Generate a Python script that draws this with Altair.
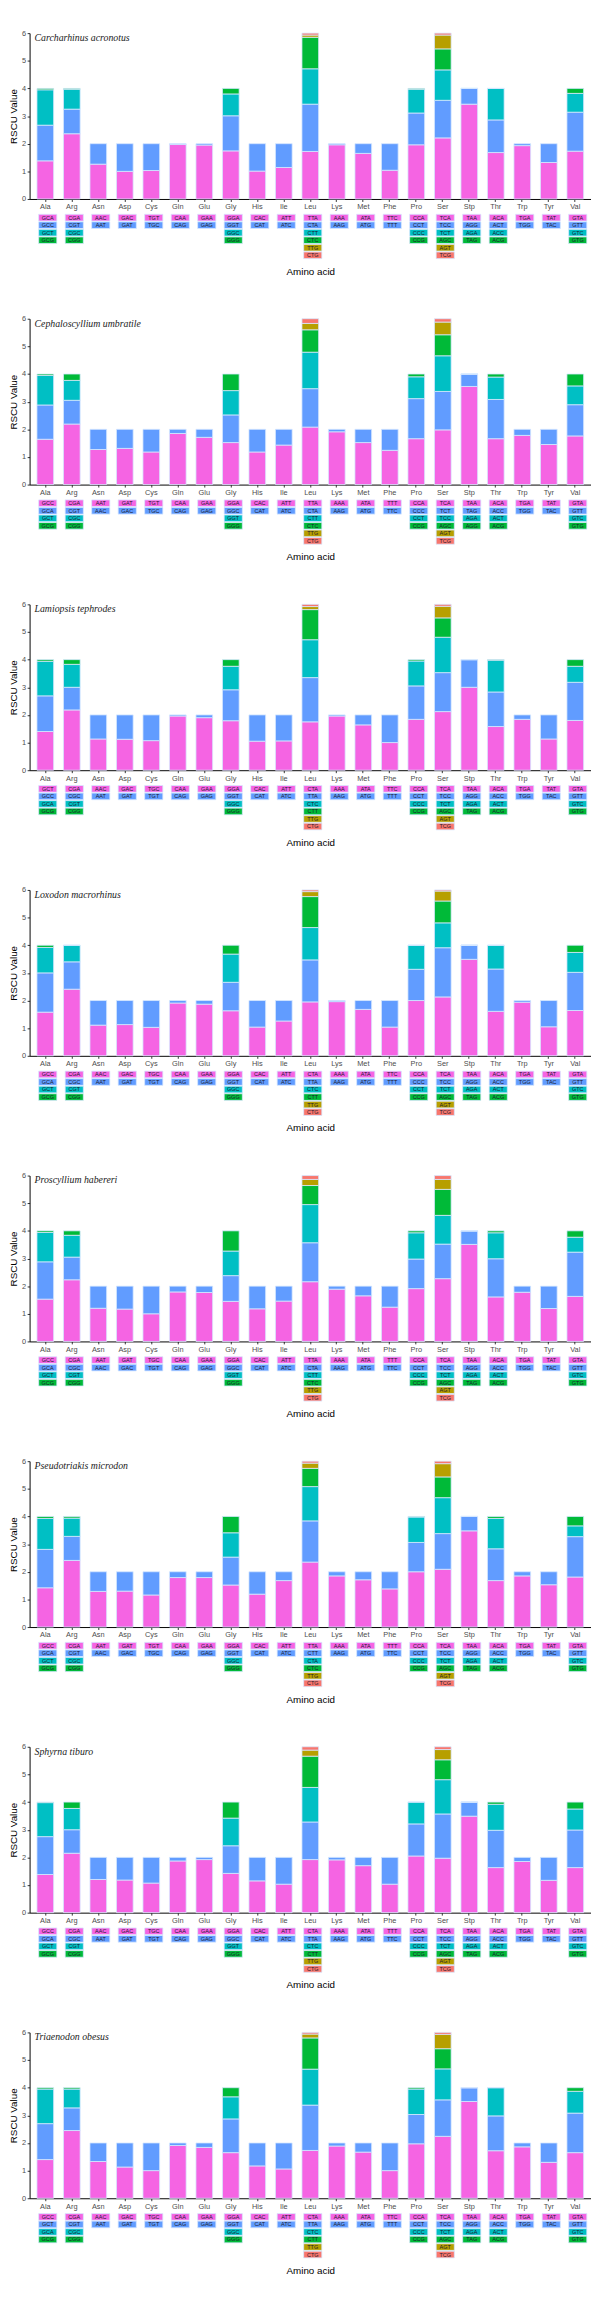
import altair as alt
import pandas as pd

AMINO = ["Ala", "Arg", "Asn", "Asp", "Cys", "Gln", "Glu", "Gly", "His", "Ile", "Leu",
         "Lys", "Met", "Phe", "Pro", "Ser", "Stp", "Thr", "Trp", "Tyr", "Val"]

SPECIES = ["Carcharhinus acronotus", "Cephaloscyllium umbratile", "Lamiopsis tephrodes",
           "Loxodon macrorhinus", "Proscyllium habereri", "Pseudotriakis microdon",
           "Sphyrna tiburo", "Triaenodon obesus"]

ROW_COLORS = ["#F564E3", "#619CFF", "#00BFC4", "#00BA38", "#B79F00", "#F8766D"]

# codon labels per amino acid (bottom of stack first)
COD_1 = ["GCA GCC GCT GCG", "CGA CGT CGC CGG", "AAC AAT", "GAC GAT", "TGT TGC", "CAA CAG", "GAA GAG",
         "GGA GGT GGC GGG", "CAC CAT", "ATT ATC", "TTA CTA CTT CTC TTG CTG", "AAA AAG", "ATA ATG",
         "TTC TTT", "CCA CCT CCC CCG", "TCA TCC TCT AGC AGT TCG", "TAA AGG AGA TAG", "ACA ACT ACC ACG",
         "TGA TGG", "TAT TAC", "GTA GTT GTC GTG"]
COD_2 = ["GCC GCA GCT GCG", "CGA CGT CGC CGG", "AAT AAC", "GAT GAC", "TGT TGC", "CAA CAG", "GAA GAG",
         "GGA GGC GGT GGG", "CAC CAT", "ATT ATC", "TTA CTA CTT CTC TTG CTG", "AAA AAG", "ATA ATG",
         "TTT TTC", "CCA CCC CCT CCG", "TCA TCT TCC AGC AGT TCG", "TAA TAG AGA AGG", "ACA ACC ACT ACG",
         "TGA TGG", "TAT TAC", "GTA GTT GTC GTG"]
COD_3 = ["GCT GCC GCA GCG", "CGA CGC CGT CGG", "AAC AAT", "GAC GAT", "TGC TGT", "CAA CAG", "GAA GAG",
         "GGA GGT GGC GGG", "CAC CAT", "ATT ATC", "CTA TTA CTC CTT TTG CTG", "AAA AAG", "ATA ATG",
         "TTC TTT", "CCA CCT CCC CCG", "TCA TCC TCT AGC AGT TCG", "TAA AGG AGA TAG", "ACA ACC ACT ACG",
         "TGA TGG", "TAT TAC", "GTA GTT GTC GTG"]
COD_4 = ["GCC GCA GCT GCG", "CGA CGC CGT CGG", "AAC AAT", "GAC GAT", "TGC TGT", "CAA CAG", "GAA GAG",
         "GGA GGT GGC GGG", "CAC CAT", "ATT ATC", "CTA TTA CTC CTT TTG CTG", "AAA AAG", "ATA ATG",
         "TTC TTT", "CCA CCC CCT CCG", "TCA TCC TCT AGC AGT TCG", "TAA AGG AGA TAG", "ACA ACC ACT ACG",
         "TGA TGG", "TAT TAC", "GTA GTT GTC GTG"]
COD_5 = ["GCC GCA GCT GCG", "CGA CGC CGT CGG", "AAT AAC", "GAT GAC", "TGC TGT", "CAA CAG", "GAA GAG",
         "GGA GGC GGT GGG", "CAC CAT", "ATT ATC", "TTA CTA CTT CTC TTG CTG", "AAA AAG", "ATA ATG",
         "TTT TTC", "CCA CCT CCC CCG", "TCA TCC TCT AGC AGT TCG", "TAA AGG AGA TAG", "ACA ACC ACT ACG",
         "TGA TGG", "TAT TAC", "GTA GTT GTC GTG"]
COD_6 = ["GCC GCA GCT GCG", "CGA CGT CGC CGG", "AAT AAC", "GAT GAC", "TGT TGC", "CAA CAG", "GAA GAG",
         "GGA GGT GGC GGG", "CAC CAT", "ATT ATC", "TTA CTT CTA CTC TTG CTG", "AAA AAG", "ATA ATG",
         "TTT TTC", "CCA CCT CCC CCG", "TCA TCC TCT AGC AGT TCG", "TAA AGG AGA TAG", "ACA ACC ACT ACG",
         "TGA TGG", "TAT TAC", "GTA GTT GTC GTG"]
COD_7 = ["GCC GCA GCT GCG", "CGA CGC CGT CGG", "AAC AAT", "GAC GAT", "TGC TGT", "CAA CAG", "GAA GAG",
         "GGA GGC GGT GGG", "CAC CAT", "ATT ATC", "CTA TTA CTC CTT TTG CTG", "AAA AAG", "ATA ATG",
         "TTT TTC", "CCA CCT CCC CCG", "TCA TCC TCT AGC AGT TCG", "TAA AGG AGA TAG", "ACA ACC ACT ACG",
         "TGA TGG", "TAT TAC", "GTA GTT GTC GTG"]
COD_8 = ["GCC GCT GCA GCG", "CGA CGT CGC CGG", "AAC AAT", "GAC GAT", "TGC TGT", "CAA CAG", "GAA GAG",
         "GGA GGT GGC GGG", "CAC CAT", "ATT ATC", "CTA TTA CTC CTT TTG CTG", "AAA AAG", "ATA ATG",
         "TTC TTT", "CCA CCT CCC CCG", "TCA TCC TCT AGC AGT TCG", "TAA AGG AGA TAG", "ACA ACC ACT ACG",
         "TGA TGG", "TAT TAC", "GTA GTT GTC GTG"]

# RSCU values per amino acid, in the same order as the codon labels
VAL_1 = [[1.38, 1.29, 1.28, 0.05], [2.36, 0.89, 0.72, 0.03], [1.26, 0.74], [1.0, 1.0], [1.03, 0.97],
         [1.97, 0.03], [1.95, 0.05], [1.74, 1.27, 0.79, 0.2], [1.01, 0.99], [1.14, 0.86],
         [1.72, 1.71, 1.28, 1.14, 0.08, 0.07], [1.96, 0.04], [1.65, 0.35], [1.04, 0.96],
         [1.96, 1.15, 0.86, 0.03], [2.21, 1.36, 1.10, 0.76, 0.50, 0.07], [3.43, 0.57, 0.0, 0.0],
         [1.68, 1.18, 1.14, 0.0], [1.93, 0.07], [1.32, 0.68], [1.73, 1.41, 0.68, 0.18]]
VAL_2 = [[1.64, 1.24, 1.07, 0.05], [2.19, 0.86, 0.72, 0.23], [1.27, 0.73], [1.31, 0.69], [1.18, 0.82],
         [1.85, 0.15], [1.71, 0.29], [1.52, 1.0, 0.88, 0.60], [1.18, 0.82], [1.43, 0.57],
         [2.08, 1.39, 1.32, 0.81, 0.23, 0.17], [1.91, 0.09], [1.52, 0.48], [1.24, 0.76],
         [1.66, 1.45, 0.79, 0.10], [1.98, 1.39, 1.29, 0.76, 0.46, 0.12], [3.55, 0.45, 0.0, 0.0],
         [1.66, 1.42, 0.81, 0.11], [1.78, 0.22], [1.45, 0.55], [1.76, 1.13, 0.68, 0.43]]
VAL_3 = [[1.40, 1.29, 1.25, 0.06], [2.18, 0.82, 0.83, 0.17], [1.13, 0.87], [1.12, 0.88], [1.07, 0.93],
         [1.96, 0.04], [1.90, 0.10], [1.79, 1.12, 0.85, 0.24], [1.05, 0.95], [1.06, 0.94],
         [1.75, 1.60, 1.37, 1.09, 0.11, 0.08], [1.96, 0.04], [1.64, 0.36], [1.0, 1.0],
         [1.84, 1.21, 0.90, 0.05], [2.12, 1.41, 1.28, 0.70, 0.42, 0.07], [3.0, 1.0, 0.0, 0.0],
         [1.58, 1.25, 1.15, 0.02], [1.84, 0.16], [1.13, 0.87], [1.80, 1.38, 0.58, 0.24]]
VAL_4 = [[1.58, 1.42, 0.92, 0.08], [2.41, 0.99, 0.60, 0.0], [1.11, 0.89], [1.13, 0.87], [1.03, 0.97],
         [1.91, 0.09], [1.87, 0.13], [1.63, 1.03, 1.02, 0.32], [1.04, 0.96], [1.26, 0.74],
         [1.95, 1.52, 1.17, 1.12, 0.18, 0.06], [1.96, 0.04], [1.68, 0.32], [1.04, 0.96],
         [2.0, 1.13, 0.87, 0.0], [2.13, 1.78, 0.90, 0.79, 0.36, 0.04], [3.49, 0.51, 0.0, 0.0],
         [1.61, 1.53, 0.86, 0.0], [1.94, 0.06], [1.05, 0.95], [1.64, 1.38, 0.72, 0.26]]
VAL_5 = [[1.53, 1.35, 1.06, 0.06], [2.23, 0.82, 0.79, 0.16], [1.20, 0.80], [1.17, 0.83], [1.0, 1.0],
         [1.79, 0.21], [1.77, 0.23], [1.45, 0.93, 0.89, 0.73], [1.18, 0.82], [1.46, 0.54],
         [2.16, 1.41, 1.38, 0.69, 0.22, 0.14], [1.89, 0.11], [1.65, 0.35], [1.24, 0.76],
         [1.91, 1.07, 0.95, 0.07], [2.27, 1.25, 1.04, 0.94, 0.36, 0.14], [3.51, 0.49, 0.0, 0.0],
         [1.61, 1.38, 0.94, 0.07], [1.78, 0.22], [1.19, 0.81], [1.63, 1.60, 0.54, 0.23]]
VAL_6 = [[1.42, 1.39, 1.12, 0.07], [2.41, 0.87, 0.66, 0.06], [1.29, 0.71], [1.30, 0.70], [1.16, 0.84],
         [1.79, 0.21], [1.79, 0.21], [1.52, 1.01, 0.88, 0.59], [1.19, 0.81], [1.68, 0.32],
         [2.35, 1.49, 1.24, 0.66, 0.19, 0.07], [1.85, 0.15], [1.71, 0.29], [1.38, 0.62],
         [2.0, 1.06, 0.92, 0.02], [2.09, 1.29, 1.30, 0.75, 0.48, 0.09], [3.48, 0.52, 0.0, 0.0],
         [1.68, 1.15, 1.10, 0.07], [1.85, 0.15], [1.53, 0.47], [1.81, 1.46, 0.39, 0.34]]
VAL_7 = [[1.38, 1.37, 1.23, 0.02], [2.15, 0.85, 0.77, 0.23], [1.20, 0.80], [1.18, 0.82], [1.07, 0.93],
         [1.87, 0.13], [1.92, 0.08], [1.42, 1.0, 1.0, 0.58], [1.15, 0.85], [1.03, 0.97],
         [1.92, 1.36, 1.25, 1.13, 0.22, 0.12], [1.91, 0.09], [1.70, 0.30], [1.03, 0.97],
         [2.05, 1.16, 0.79, 0.0], [1.97, 1.60, 1.24, 0.72, 0.37, 0.10], [3.49, 0.51, 0.0, 0.0],
         [1.63, 1.35, 0.94, 0.08], [1.85, 0.15], [1.17, 0.83], [1.63, 1.36, 0.76, 0.25]]
VAL_8 = [[1.40, 1.30, 1.25, 0.05], [2.45, 0.82, 0.68, 0.05], [1.33, 0.67], [1.13, 0.87], [1.0, 1.0],
         [1.91, 0.09], [1.84, 0.16], [1.65, 1.22, 0.80, 0.33], [1.17, 0.83], [1.06, 0.94],
         [1.73, 1.64, 1.30, 1.13, 0.14, 0.06], [1.89, 0.11], [1.67, 0.33], [1.0, 1.0],
         [1.97, 1.06, 0.92, 0.05], [2.24, 1.32, 1.12, 0.73, 0.52, 0.07], [3.50, 0.50, 0.0, 0.0],
         [1.72, 1.26, 1.02, 0.0], [1.86, 0.14], [1.30, 0.70], [1.65, 1.43, 0.79, 0.13]]

CODONS = [COD_1, COD_2, COD_3, COD_4, COD_5, COD_6, COD_7, COD_8]
VALUES = [VAL_1, VAL_2, VAL_3, VAL_4, VAL_5, VAL_6, VAL_7, VAL_8]

PLOT_W, PLOT_H = 572, 169
UNIT = 6.0 / PLOT_H            # data units per pixel
ROW0_PX, ROW_STEP_PX, BOX_HALF_PX = 19.0, 7.67, 3.4

FONT = "Liberation Sans"

color_scale = alt.Scale(domain=[1, 2, 3, 4, 5, 6], range=ROW_COLORS)
xenc = alt.X("aa:N", sort=AMINO,
             scale=alt.Scale(paddingInner=0.37, paddingOuter=0.278),
             axis=alt.Axis(title="Amino acid", labelAngle=0, labelFontSize=7.5, labelColor="#4d4d4d",
                           labelFont=FONT, titleFont=FONT, titleFontSize=10, titleFontWeight="normal",
                           titleColor="#000000", titlePadding=57, tickSize=2.5, tickColor="#333333",
                           domainColor="#000000", labelPadding=1.5))
yscale = alt.Scale(domain=[0, 6], nice=False, zero=True)
yaxis = alt.Axis(title="RSCU Value", values=[0, 1, 2, 3, 4, 5, 6], labelFontSize=7.5,
                 labelColor="#4d4d4d", labelFont=FONT, titleFont=FONT, titleFontSize=10,
                 titleFontWeight="normal", titleColor="#000000", tickSize=2.5, tickColor="#333333",
                 domainColor="#000000", grid=False, titlePadding=3, labelPadding=1.5)


def panel(k):
    rows = []
    boxes = []
    for aa, cods, vals in zip(AMINO, CODONS[k], VALUES[k]):
        for i, (c, v) in enumerate(zip(cods.split(), vals), start=1):
            rows.append({"aa": aa, "idx": i, "codon": c, "value": v})
            mid_px = ROW0_PX + (i - 1) * ROW_STEP_PX
            boxes.append({"aa": aa, "idx": i, "codon": c,
                          "ymid": -mid_px * UNIT,
                          "ylo": -(mid_px + BOX_HALF_PX) * UNIT,
                          "yhi": -(mid_px - BOX_HALF_PX) * UNIT})
    bars_df = pd.DataFrame(rows)
    box_df = pd.DataFrame(boxes)

    bars = alt.Chart(bars_df).mark_bar(stroke="#d8e8ff", strokeWidth=0.8).encode(
        x=xenc,
        y=alt.Y("value:Q", stack="zero", scale=yscale, axis=yaxis),
        color=alt.Color("idx:O", scale=color_scale, legend=None),
        order=alt.Order("idx:Q", sort="ascending"),
    )
    rects = alt.Chart(box_df).mark_bar(stroke="#d8e8ff", strokeWidth=0.8, width=18.5,
                                       xOffset=2.5).encode(
        x=xenc,
        y=alt.Y("ylo:Q", scale=yscale, axis=yaxis),
        y2="yhi:Q",
        color=alt.Color("idx:O", scale=color_scale, legend=None),
    )
    texts = alt.Chart(box_df).mark_text(fontSize=5.6, font=FONT, color="#1a1a2e", xOffset=2.5,
                                        baseline="middle", align="center").encode(
        x=xenc,
        y=alt.Y("ymid:Q", scale=yscale, axis=yaxis),
        text="codon:N",
    )
    title = alt.Chart(pd.DataFrame({"t": [SPECIES[k]]})).mark_text(
        font="Liberation Serif", fontStyle="italic", fontSize=10, align="left",
        baseline="middle", color="#222222").encode(
        x=alt.value(5), y=alt.value(5), text="t:N")
    return alt.layer(bars, rects, texts, title).properties(width=PLOT_W, height=PLOT_H)


chart = alt.vconcat(*[panel(k) for k in range(8)], spacing=122, bounds="flush").properties(
    padding={"left": 0, "top": 0, "right": 0, "bottom": 0}
).configure_view(stroke=None).configure_axis(grid=False)

chart.save("out.html", embed_options={"renderer": "svg", "actions": False})
